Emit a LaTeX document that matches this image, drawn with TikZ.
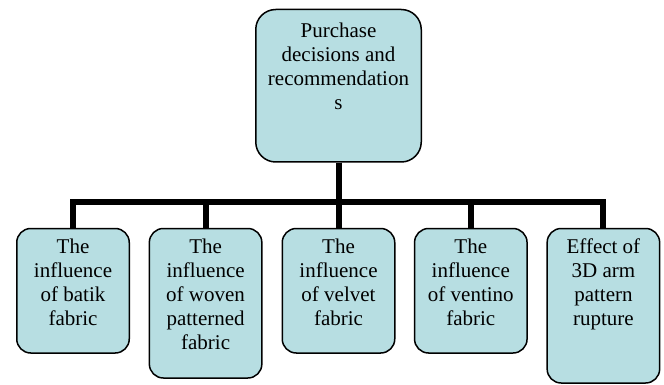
\documentclass[tikz,border=0pt]{standalone}
\usepackage{fontspec}
\setmainfont{Liberation Serif}
\definecolor{boxaqua}{HTML}{B7DEE2}
\usepackage{tikz}
\usetikzlibrary{positioning}

\begin{document}
\begin{tikzpicture}[x=1pt, y=-1pt,
    box/.style={draw=black, line width=1.5pt, fill=boxaqua, rounded corners=14pt,
      anchor=north, minimum width=112.5pt, inner sep=0pt},
    lbl/.style={below=11pt, align=center, inner sep=0pt,
      font=\fontsize{21}{24}\selectfont},
    trunk/.style={line width=6pt, black}]
    \useasboundingbox (0,0) rectangle (664,385);
    % Decision box at the top
    \node[box, minimum width=165.5pt, minimum height=152.5pt, rounded corners=20pt,
      label={[lbl, below=14pt]north:Purchase\\decisions and\\recommendation\\s}]
      (decide) at (338.5,8.75) {};
    % Influencing factors
    \node[box, minimum height=124.5pt,
      label={[lbl]north:The\\influence\\of batik\\fabric}]
      (batik) at (73,227.75) {};
    \node[box, minimum height=149.5pt,
      label={[lbl]north:The\\influence\\of woven\\patterned\\fabric}]
      (woven) at (205.6,227.75) {};
    \node[box, minimum height=124.5pt,
      label={[lbl]north:The\\influence\\of velvet\\fabric}]
      (velvet) at (338.5,227.75) {};
    \node[box, minimum height=124.5pt,
      label={[lbl]north:The\\influence\\of ventino\\fabric}]
      (ventino) at (470.8,227.75) {};
    \node[box, minimum height=154.5pt,
      label={[lbl]north:Effect of\\3D arm\\pattern\\rupture}]
      (rupture) at (603.4,227.75) {};
    % Tree connectors
    \coordinate (bus) at (338.5,202);
    \draw[trunk] (decide.south) -- (bus) -| (batik.north);
    \draw[trunk] (decide.south) -- (bus) -| (woven.north);
    \draw[trunk] (decide.south) -- (velvet.north);
    \draw[trunk] (decide.south) -- (bus) -| (ventino.north);
    \draw[trunk] (decide.south) -- (bus) -| (rupture.north);
  \end{tikzpicture}
\end{document}
